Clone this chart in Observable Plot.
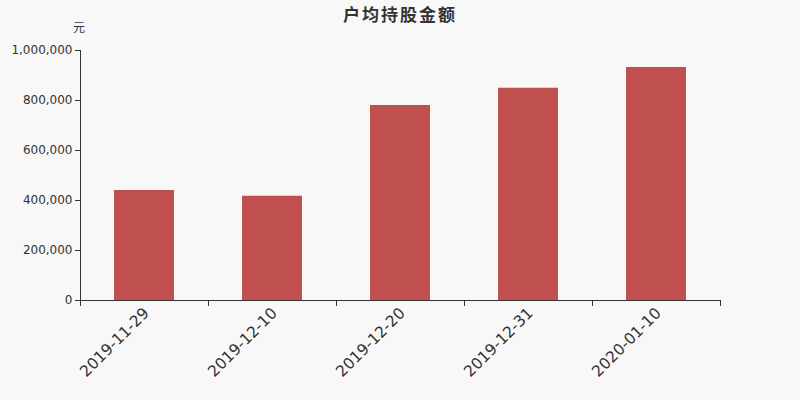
<!DOCTYPE html>
<html><head><meta charset="utf-8">
<script src="https://cdn.jsdelivr.net/npm/d3@7"></script>
<script src="https://cdn.jsdelivr.net/npm/@observablehq/plot@0.6"></script>
<style>
html,body{margin:0;padding:0;background:#f8f8f8;}
#wrap{position:relative;width:800px;height:400px;font-family:"DejaVu Sans","Noto Sans CJK SC",sans-serif;}
#title{position:absolute;left:0;top:1px;width:800px;text-align:center;font-size:17px;letter-spacing:2px;font-weight:bold;color:#333;font-family:"Noto Sans CJK SC",sans-serif;}
#unit{position:absolute;left:73px;top:18px;font-size:12px;color:#333;font-family:"Noto Sans CJK SC",sans-serif;}
</style></head>
<body><div id="wrap"><div id="title">户均持股金额</div><div id="unit">元</div></div>
<script>
const categories = ["2019-11-29","2019-12-10","2019-12-20","2019-12-31","2020-01-10"];
const values = [440000, 417000, 780000, 849000, 932000];
const yTicks = [0, 200000, 400000, 600000, 800000, 1000000];

const data = categories.map((c, i) => ({date: c, value: values[i]}));
const W = 800, mL = 80, mR = 80;
const band = (W - mL - mR) / categories.length;
const half = band / 2;
const barInset = (band - 60) / 2;

const chart = Plot.plot({
  width: W, height: 400,
  marginLeft: mL, marginRight: mR, marginTop: 50, marginBottom: 100,
  style: {background: "transparent", fontFamily: "DejaVu Sans, sans-serif", color: "#333"},
  x: {domain: categories, padding: 0, label: null},
  y: {domain: [0, 1000000], label: null},
  marks: [
    Plot.barY(data, {x: "date", y: "value", fill: "#c0504d", insetLeft: barInset, insetRight: barInset}),
    Plot.axisY({ticks: yTicks, tickFormat: d3.format(","), tickSize: 5, fontSize: 12, stroke: "#333", fill: "#333", tickPadding: 3}),
    Plot.frame({anchor: "left", stroke: "#333"}),
    Plot.frame({anchor: "bottom", stroke: "#333"}),
    Plot.axisX({tickSize: 0, tickRotate: -45, textAnchor: "end", fontSize: 15.5, fill: "#333", dx: 2, dy: 4, tickPadding: 6}),
    Plot.axisX({ticks: categories, tickFormat: null, tickSize: 6, dx: -half, stroke: "#333"}),
    Plot.axisX({ticks: categories.slice(-1), tickFormat: null, tickSize: 6, dx: half, stroke: "#333"})
  ]
});
document.getElementById("wrap").appendChild(chart);
</script></body></html>
